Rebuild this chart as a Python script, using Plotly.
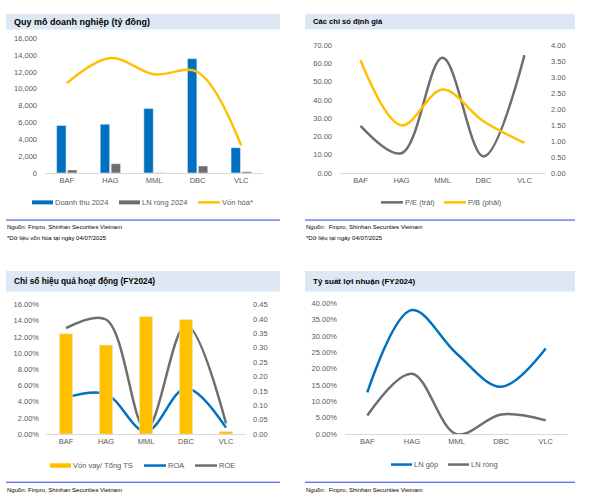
import plotly.graph_objects as go

W, H = 592, 500

# ---- data ----
companies = ["BAF", "HAG", "MML", "DBC", "VLC"]

# chart 1: Quy mô doanh nghiệp (tỷ đồng)
doanh_thu_2024 = [5630, 5790, 7650, 13590, 2990]
ln_rong_2024 = [350, 1090, 20, 820, 150]
von_hoa = [10680, 13670, 11730, 12000, 3260]

# chart 2: Các chỉ số định giá
pe = [25.8, 10.8, 63.1, 9.0, 64.6]
pb = [3.53, 1.49, 2.61, 1.62, 0.94]

# chart 3: Chỉ số hiệu quả hoạt động (FY2024)
von_vay_tong_ts = [0.348, 0.309, 0.408, 0.398, 0.009]
roa = [0.0450, 0.0494, 0.0032, 0.0567, 0.0080]
roe = [0.1307, 0.1415, 0.0060, 0.1343, 0.0133]

# chart 4: Tỷ suất lợi nhuận (FY2024)
ln_gop_margin = [0.128, 0.380, 0.247, 0.145, 0.262]
ln_rong_margin = [0.057, 0.185, 0.000, 0.060, 0.042]

BLUE = "#0070C0"
GRAY = "#6E6E6E"
YELLOW = "#FFC000"
TXT = "#595959"
HEAD_BG = "#DEE8F4"
RULE = "#2F3CF5"
FONT = "Liberation Sans, Arial, sans-serif"


def px(x):
    return x / W


def py(y):
    return 1 - y / H


fig = go.Figure()

spline = dict(width=2.5, shape="spline", smoothing=1)

# chart 1
fig.add_trace(go.Bar(x=companies, y=doanh_thu_2024, name="Doanh thu 2024",
                     marker_color=BLUE, xaxis="x", yaxis="y"))
fig.add_trace(go.Bar(x=companies, y=ln_rong_2024, name="LN ròng 2024",
                     marker_color=GRAY, xaxis="x", yaxis="y"))
fig.add_trace(go.Scatter(x=companies, y=von_hoa, name="Vốn hóa*", mode="lines",
                         line=dict(color=YELLOW, **spline), xaxis="x", yaxis="y"))

# chart 2
fig.add_trace(go.Scatter(x=companies, y=pe, name="P/E (trái)", mode="lines",
                         line=dict(color=GRAY, **spline), xaxis="x2", yaxis="y2"))
fig.add_trace(go.Scatter(x=companies, y=pb, name="P/B (phải)", mode="lines",
                         line=dict(color=YELLOW, **spline), xaxis="x2", yaxis="y3"))

# chart 3
fig.add_trace(go.Bar(x=companies, y=von_vay_tong_ts, name="Vốn vay/ Tổng TS",
                     marker_color=YELLOW, width=0.33, xaxis="x3", yaxis="y5"))
fig.add_trace(go.Scatter(x=companies, y=roa, name="ROA", mode="lines",
                         line=dict(color=BLUE, **spline), xaxis="x3", yaxis="y4"))
fig.add_trace(go.Scatter(x=companies, y=roe, name="ROE", mode="lines",
                         line=dict(color=GRAY, **spline), xaxis="x3", yaxis="y4"))

# chart 4
fig.add_trace(go.Scatter(x=companies, y=ln_gop_margin, name="LN gộp", mode="lines",
                         line=dict(color=BLUE, **spline), xaxis="x4", yaxis="y6"))
fig.add_trace(go.Scatter(x=companies, y=ln_rong_margin, name="LN ròng", mode="lines",
                         line=dict(color=GRAY, **spline), xaxis="x4", yaxis="y6"))

tickfont = dict(family=FONT, size=7.5, color=TXT)


def xax(x0, x1, anchor):
    return dict(domain=[px(x0), px(x1)], anchor=anchor, type="category",
                range=[-0.5, len(companies) - 0.5],
                showgrid=False, showline=True, linecolor="#D9D9D9", linewidth=1,
                ticks="", tickfont=tickfont, fixedrange=True)


def yax(y0, y1, anchor, rng, dtick, fmt, side="left", overlaying=None, standoff=5):
    d = dict(domain=[py(y1), py(y0)], anchor=anchor, range=rng, dtick=dtick,
             tickformat=fmt, showgrid=False, zeroline=False, showline=False,
             ticks="", tickfont=tickfont, side=side, fixedrange=True,
             ticklabelstandoff=standoff)
    if overlaying:
        d["overlaying"] = overlaying
    return d


fig.update_layout(
    width=W, height=H,
    margin=dict(l=0, r=0, t=0, b=0),
    paper_bgcolor="white", plot_bgcolor="white",
    showlegend=False,
    barmode="group", bargap=0.5, bargroupgap=0.14,
    xaxis=xax(45, 263, "y"),
    yaxis=yax(35, 172, "x", [0, 16000], 2000, ",", standoff=7),
    xaxis2=xax(340, 545, "y2"),
    yaxis2=yax(42, 172, "x2", [0, 70], 10, ".2f", standoff=7),
    yaxis3=yax(42, 172, "x2", [0, 4], 0.5, ".2f", side="right", overlaying="y2", standoff=5),
    xaxis3=xax(46, 246, "y4"),
    yaxis4=yax(306, 438, "x3", [0, 0.16], 0.02, ".2%", standoff=6),
    yaxis5=yax(306, 438, "x3", [0, 0.45], 0.05, ".2f", side="right", overlaying="y4", standoff=6),
    xaxis4=xax(345, 568, "y6"),
    yaxis6=yax(305, 438, "x4", [0, 0.40], 0.05, ".2%", standoff=7),
)

shapes = []
annotations = []

# panel headers, rules and source notes
panels = [
    (6, 280, 10, 26, "Quy mô doanh nghiệp (tỷ đồng)", 9, 220,
     ["Nguồn: Finpro, Shinhan Securities Vietnam", "*Dữ liệu vốn hóa tại ngày 04/07/2025"]),
    (305, 575, 10, 26, "Các chỉ số định giá", 7.6, 220,
     ["Nguồn:  Finpro, Shinhan Securities Vietnam", "*Dữ liệu tại ngày 04/07/2025"]),
    (6, 280, 272, 293, "Chỉ số hiệu quả hoạt động (FY2024)", 8.3, 487,
     ["Nguồn: Finpro, Shinhan Securities Vietnam"]),
    (305, 575, 272, 293, "Tỷ suất lợi nhuận (FY2024)", 8, 487,
     ["Nguồn:  Finpro, Shinhan Securities Vietnam"]),
]
for x0, x1, hy0, hy1, title, tsize, ry, notes in panels:
    shapes.append(dict(type="rect", xref="paper", yref="paper",
                       x0=px(x0), x1=px(x1), y0=py(hy1), y1=py(hy0),
                       fillcolor=HEAD_BG, line=dict(width=0), layer="below"))
    annotations.append(dict(xref="paper", yref="paper", x=px(x0 + 6), y=py((hy0 + hy1) / 2),
                            xanchor="left", yanchor="middle", showarrow=False,
                            text="<b>" + title + "</b>",
                            font=dict(family=FONT, size=tsize, color="black")))
    shapes.append(dict(type="line", xref="paper", yref="paper",
                       x0=px(x0), x1=px(x1), y0=py(ry), y1=py(ry),
                       line=dict(color=RULE, width=1)))
    for i, note in enumerate(notes):
        annotations.append(dict(xref="paper", yref="paper", x=px(x0 - 1), y=py(ry + 7.5 + 11 * i),
                                xanchor="left", yanchor="middle", showarrow=False, text=note,
                                font=dict(family=FONT, size=6, color="black")))

# legends
legends = [
    (202, [(32, 53, BLUE, 4, "Doanh thu 2024"), (119, 140, GRAY, 4, "LN ròng 2024"),
           (198, 220, YELLOW, 2.5, "Vốn hóa*")]),
    (202, [(381, 403, GRAY, 2.5, "P/E (trái)"), (444, 466, YELLOW, 2.5, "P/B (phải)")]),
    (470, [(50, 71, YELLOW, 4.5, "Vốn vay/ Tổng TS"), (144, 166, BLUE, 2.5, "ROA"),
           (195, 217, GRAY, 2.5, "ROE")]),
    (469, [(391, 412, BLUE, 2.5, "LN gộp"), (448, 469, GRAY, 2.5, "LN ròng")]),
]
for ly, items in legends:
    for sx0, sx1, col, th, label in items:
        shapes.append(dict(type="line", xref="paper", yref="paper",
                           x0=px(sx0), x1=px(sx1), y0=py(ly), y1=py(ly),
                           line=dict(color=col, width=th)))
        annotations.append(dict(xref="paper", yref="paper", x=px(sx1), y=py(ly),
                                xanchor="left", yanchor="middle", showarrow=False, text=label,
                                font=dict(family=FONT, size=7.5, color=TXT)))

fig.update_layout(shapes=shapes, annotations=annotations)

fig.write_html("out.html", config={"displayModeBar": False},
               post_script="document.body.style.margin='0';")
